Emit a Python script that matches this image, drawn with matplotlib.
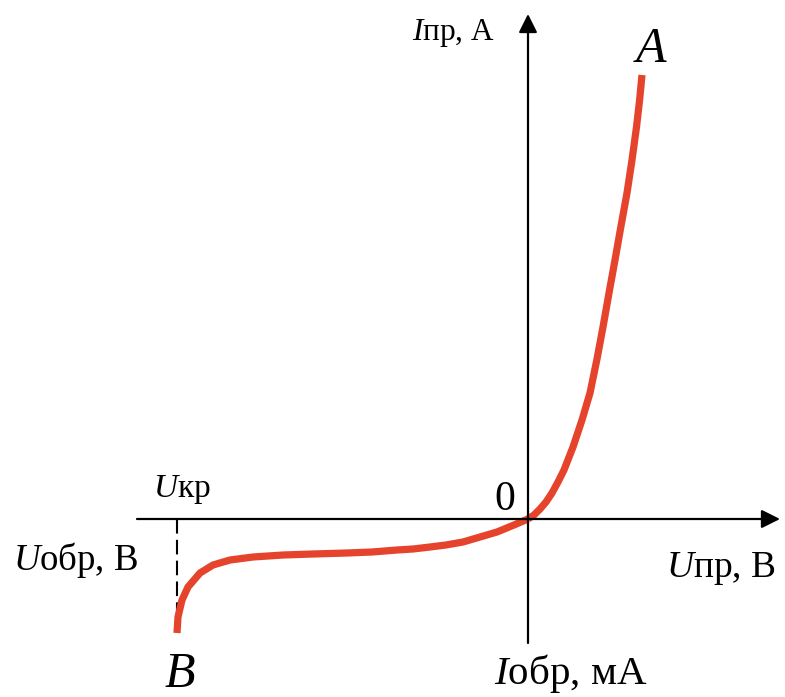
import matplotlib.pyplot as plt

plt.rcParams['font.family'] = ['Liberation Serif', 'DejaVu Serif']
plt.rcParams['mathtext.fontset'] = 'custom'
plt.rcParams['mathtext.rm'] = 'Liberation Serif'
plt.rcParams['mathtext.it'] = 'Liberation Serif:italic'

# Пряма гілка ВАХ діода (від 0 до точки A)
u_pr = [0, 6, 12, 18, 24, 30, 36, 45, 54, 62, 69, 75, 81, 87, 93, 99, 104, 108.5, 111.5, 114]
i_pr = [0, 4, 10, 17, 26, 37, 49, 72, 99, 126, 160, 192, 226, 259, 293, 326, 359, 392, 418, 444]

# Зворотна гілка (від 0 до точки пробою B)
u_obr = [0, -14, -31, -48, -65, -82, -98, -115, -131, -156, -181, -215, -245,
         -275, -298, -315, -328, -340, -346, -350, -351]
i_obr = [0, -6, -13, -18, -23, -26, -28, -30, -31, -33, -34, -35, -36,
         -38, -41, -46, -54, -68, -81, -98, -114]

u_kr = -351        # напруга пробою
i_kr_end = -95     # нижній кінець пунктиру

fig = plt.figure(figsize=(7.85, 6.97), dpi=100)
ax = fig.add_axes([0, 0, 1, 1])
ax.set_xlim(-528, 257)
ax.set_ylim(-178, 519)
ax.axis('off')

# Осі координат зі стрілками
ax.annotate('', xy=(252, 0), xytext=(-391, 0),
            arrowprops=dict(arrowstyle='-|>', color='black', lw=1.6,
                            mutation_scale=28, shrinkA=0, shrinkB=0))
ax.annotate('', xy=(0, 505), xytext=(0, -124),
            arrowprops=dict(arrowstyle='-|>', color='black', lw=1.6,
                            mutation_scale=28, shrinkA=0, shrinkB=0))

# Пунктир від U_кр
ax.plot([u_kr, u_kr], [0, i_kr_end], color='black', lw=1.5,
        dashes=(7, 3))

# Крива
red = '#e5432b'
ax.plot(u_pr, i_pr, color=red, lw=5.2, solid_capstyle='butt', solid_joinstyle='round')
ax.plot(u_obr, i_obr, color=red, lw=5.2, solid_capstyle='butt', solid_joinstyle='round')

# Підписи
ax.text(412 - 528, 519 - 40, r'$\mathit{I}$пр, А', fontsize=22.5, ha='left', va='baseline')
ax.text(651 - 528, 519 - 62, r'$\mathit{A}$', fontsize=36, ha='center', va='baseline')
ax.text(153 - 528, 519 - 497, r'$\mathit{U}$кр', fontsize=24, ha='left', va='baseline')
ax.text(505 - 528, 519 - 510, '0', fontsize=30, ha='center', va='baseline')
ax.text(13 - 528, 519 - 570, r'$\mathit{U}$обр, В', fontsize=26.5, ha='left', va='baseline')
ax.text(666 - 528, 519 - 577, r'$\mathit{U}$пр, В', fontsize=27, ha='left', va='baseline')
ax.text(180 - 528, 519 - 687, r'$\mathit{B}$', fontsize=36, ha='center', va='baseline')
ax.text(494 - 528, 519 - 684, r'$\mathit{I}$обр, мА', fontsize=29.5, ha='left', va='baseline')

fig.savefig('out.png', dpi=100)
